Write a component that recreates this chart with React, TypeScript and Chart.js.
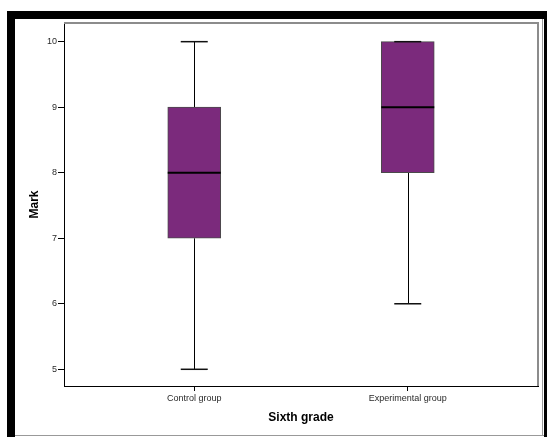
import React, { useEffect, useRef } from "react";
import { Chart, registerables } from "chart.js";

Chart.register(...registerables);

const categories = ["Control group", "Experimental group"];
const minValues = [5, 6];
const q1Values = [7, 8];
const medianValues = [8, 9];
const q3Values = [9, 10];
const maxValues = [10, 10];
const yTickValues = [5, 6, 7, 8, 9, 10];

const FONT = "'Liberation Sans', Arial, sans-serif";

const boxPlugin = {
  id: "boxParts",
  beforeDatasetsDraw(chart: any) {
    const { ctx, scales } = chart;
    const xs = scales.x;
    const ys = scales.y;
    ctx.save();
    ctx.strokeStyle = "#000";
    ctx.lineWidth = 1;
    categories.forEach((_, i) => {
      const x = Math.round(xs.getPixelForValue(i + 1)) + 0.5;
      ctx.beginPath();
      ctx.moveTo(x, ys.getPixelForValue(minValues[i]));
      ctx.lineTo(x, ys.getPixelForValue(q1Values[i]));
      ctx.moveTo(x, ys.getPixelForValue(q3Values[i]));
      ctx.lineTo(x, ys.getPixelForValue(maxValues[i]));
      ctx.stroke();
    });
    ctx.restore();
  },
  afterDatasetsDraw(chart: any) {
    const { ctx, scales, chartArea } = chart;
    const xs = scales.x;
    const ys = scales.y;
    ctx.save();
    categories.forEach((_, i) => {
      const x = xs.getPixelForValue(i + 1);
      ctx.strokeStyle = "#111";
      ctx.lineWidth = 1.5;
      [minValues[i], maxValues[i]].forEach((v) => {
        const y = ys.getPixelForValue(v);
        ctx.beginPath();
        ctx.moveTo(x - 13.5, y);
        ctx.lineTo(x + 13.5, y);
        ctx.stroke();
      });
      ctx.strokeStyle = "#000";
      ctx.lineWidth = 2;
      const ym = ys.getPixelForValue(medianValues[i]);
      ctx.beginPath();
      ctx.moveTo(x - 26.5, ym);
      ctx.lineTo(x + 26.5, ym);
      ctx.stroke();
    });
    ctx.strokeStyle = "#8c8c8c";
    ctx.lineWidth = 2;
    ctx.beginPath();
    ctx.moveTo(chartArea.left, chartArea.top);
    ctx.lineTo(chartArea.right, chartArea.top);
    ctx.lineTo(chartArea.right, chartArea.bottom);
    ctx.stroke();
    ctx.restore();
  },
};

export default function App() {
  const canvasRef = useRef<HTMLCanvasElement | null>(null);

  useEffect(() => {
    if (!canvasRef.current) return;
    const chart = new Chart(canvasRef.current, {
      type: "bar",
      data: {
        datasets: [
          {
            data: categories.map((_, i) => ({ x: i + 1, y: [q1Values[i], q3Values[i]] })) as any,
            backgroundColor: "#7b2a7c",
            borderColor: "#4a4a4a",
            borderWidth: 1,
            borderSkipped: false,
            barThickness: 53,
            grouped: false,
          },
        ],
      },
      options: {
        responsive: false,
        animation: false,
        layout: { padding: { left: 0, right: 9, top: 23, bottom: 0 } },
        plugins: {
          legend: { display: false },
          tooltip: { enabled: false },
        },
        scales: {
          x: {
            type: "linear",
            offset: false,
            min: 0.39,
            max: 2.61,
            afterBuildTicks: (axis: any) => {
              axis.ticks = categories.map((_, i) => ({ value: i + 1 }));
            },
            afterFit: (axis: any) => {
              axis.height = 51;
            },
            grid: {
              offset: false,
              drawOnChartArea: false,
              drawTicks: true,
              tickLength: 5,
              color: "#000",
            },
            border: { display: true, color: "#000", width: 1 },
            ticks: {
              padding: 2,
              maxRotation: 0,
              autoSkip: false,
              color: "#2a2a2a",
              font: { family: FONT, size: 9 },
              callback: (v: any) => categories[Math.round(Number(v)) - 1] ?? "",
            },
            title: {
              display: true,
              text: "Sixth grade",
              color: "#000",
              font: { family: FONT, size: 12, weight: "bold" },
              padding: { top: 0, bottom: 12 },
            },
          },
          y: {
            type: "linear",
            min: 4.745,
            max: 10.285,
            afterBuildTicks: (axis: any) => {
              axis.ticks = yTickValues.map((v) => ({ value: v }));
            },
            afterFit: (axis: any) => {
              axis.width = 64;
            },
            grid: {
              drawOnChartArea: false,
              drawTicks: true,
              tickLength: 6,
              color: "#000",
            },
            border: { display: true, color: "#000", width: 1 },
            ticks: {
              padding: 1,
              color: "#2a2a2a",
              font: { family: FONT, size: 9 },
              callback: (v: any) => String(v),
            },
            title: {
              display: true,
              text: "Mark",
              color: "#000",
              font: { family: FONT, size: 12, weight: "bold" },
              padding: { top: 27, bottom: 0 },
            },
          },
        },
      },
      plugins: [boxPlugin],
    });
    return () => chart.destroy();
  }, []);

  return (
    <div style={{ position: "absolute", left: 0, top: 0, width: 547, height: 437, background: "#fff" }}>
      <canvas
        ref={canvasRef}
        width={547}
        height={437}
        style={{ position: "absolute", left: 0, top: 0, width: 547, height: 437 }}
      />
      <div style={{ position: "absolute", left: 7, top: 11, width: 540, height: 8, background: "#000" }} />
      <div style={{ position: "absolute", left: 7, top: 11, width: 8, height: 426, background: "#000" }} />
      <div style={{ position: "absolute", left: 544, top: 11, width: 3, height: 426, background: "#000" }} />
      <div style={{ position: "absolute", left: 542, top: 19, width: 1, height: 417, background: "#999" }} />
      <div style={{ position: "absolute", left: 15, top: 435, width: 529, height: 1, background: "#999" }} />
    </div>
  );
}
